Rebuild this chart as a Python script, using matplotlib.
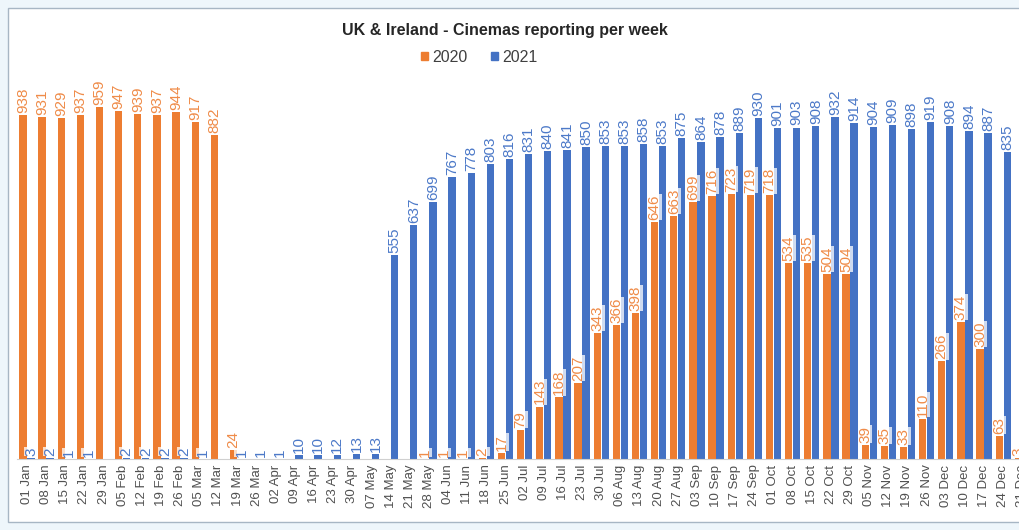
import numpy as np
import matplotlib
matplotlib.use("Agg")
import matplotlib.pyplot as plt
from matplotlib.patches import Rectangle, Patch

plt.rcParams['font.family'] = ['Liberation Sans', 'DejaVu Sans']

weeks = ['01 Jan', '08 Jan', '15 Jan', '22 Jan', '29 Jan', '05 Feb', '12 Feb', '19 Feb',
         '26 Feb', '05 Mar', '12 Mar', '19 Mar', '26 Mar', '02 Apr', '09 Apr', '16 Apr',
         '23 Apr', '30 Apr', '07 May', '14 May', '21 May', '28 May', '04 Jun', '11 Jun',
         '18 Jun', '25 Jun', '02 Jul', '09 Jul', '16 Jul', '23 Jul', '30 Jul', '06 Aug',
         '13 Aug', '20 Aug', '27 Aug', '03 Sep', '10 Sep', '17 Sep', '24 Sep', '01 Oct',
         '08 Oct', '15 Oct', '22 Oct', '29 Oct', '05 Nov', '12 Nov', '19 Nov', '26 Nov',
         '03 Dec', '10 Dec', '17 Dec', '24 Dec', '31 Dec']

# None = no cinemas reporting that week
y2020 = [938, 931, 929, 937, 959, 947, 939, 937, 944, 917, 882, 24, None, None, None, None,
         None, None, None, None, None, 1, 1, 1, 2, 17, 79, 143, 168, 207, 343, 366,
         398, 646, 663, 699, 716, 723, 719, 718, 534, 535, 504, 504, 39, 35, 33, 110,
         266, 374, 300, 63, 3]
y2021 = [3, 2, 1, 1, None, 2, 2, 2, 2, 1, None, 1, 1, 1, 10, 10,
         12, 13, 13, 555, 637, 699, 767, 778, 803, 816, 831, 840, 841, 850, 853, 853,
         858, 853, 875, 864, 878, 889, 930, 901, 903, 908, 932, 914, 904, 909, 898, 919,
         908, 894, 887, 835, 828]

c2020 = '#ED7D31'
c2021 = '#4472C4'

fig = plt.figure(figsize=(10.19, 5.30), dpi=100)
fig.patch.set_facecolor('#eef6fb')

# chart area frame (runs off the right-hand edge)
frame = Rectangle((8 / 1019, 8 / 530), 1.02, 514 / 530, transform=fig.transFigure,
                  facecolor='white', edgecolor='#a7b6c4', linewidth=1.0, zorder=-5)
fig.patches.append(frame)

ax = fig.add_axes([17.4 / 1019, 71 / 530, 1014.5 / 1019, 403.8 / 530])
ax.set_facecolor('none')
ax.set_zorder(2)

x = np.arange(len(weeks))
v20 = np.array([np.nan if v is None else v for v in y2020], dtype=float)
v21 = np.array([np.nan if v is None else v for v in y2021], dtype=float)
w = 0.38
off = 0.21
ax.bar(x - off, np.nan_to_num(v20), width=w, color=c2020, zorder=2)
ax.bar(x + off, np.nan_to_num(v21), width=w, color=c2021, zorder=2)

# value labels above each bar
for xs, vals, col in ((x - off, v20, '#EF8B48'), (x + off, v21, '#4C79C8')):
    for xi, v in zip(xs, vals):
        if np.isnan(v):
            continue
        ax.annotate(f'{int(v)}', (xi, v), xytext=(0, 1.5), textcoords='offset points',
                    rotation=90, ha='center', va='bottom', fontsize=11, color=col,
                    bbox=dict(boxstyle='square,pad=0.02', fc='white', ec='none', alpha=0.75),
                    zorder=3, annotation_clip=False)

ax.set_xlim(-0.5, len(weeks) - 0.5)
ax.set_ylim(0, 1100)
ax.set_yticks([])
ax.set_xticks(x)
ax.set_xticklabels(weeks, rotation=90, fontsize=9.5, color='#505050')
ax.tick_params(axis='x', length=0, pad=4)
for s in ('top', 'right', 'left'):
    ax.spines[s].set_visible(False)
ax.spines['bottom'].set_color('#d0d0d0')

fig.text(505 / 1019, 1 - 30 / 530, 'UK & Ireland - Cinemas reporting per week',
         ha='center', va='center', fontsize=11.5, fontweight='bold', color='#262626')
fig.legend(handles=[Patch(color=c2020, label='2020'), Patch(color=c2021, label='2021')],
           loc='center', bbox_to_anchor=(479 / 1019, 1 - 57 / 530), ncol=2, frameon=False,
           fontsize=11.5, handlelength=0.45, handleheight=0.45, handletextpad=0.25,
           columnspacing=1.5, labelcolor='#404040')

fig.savefig('out.png', dpi=100)
